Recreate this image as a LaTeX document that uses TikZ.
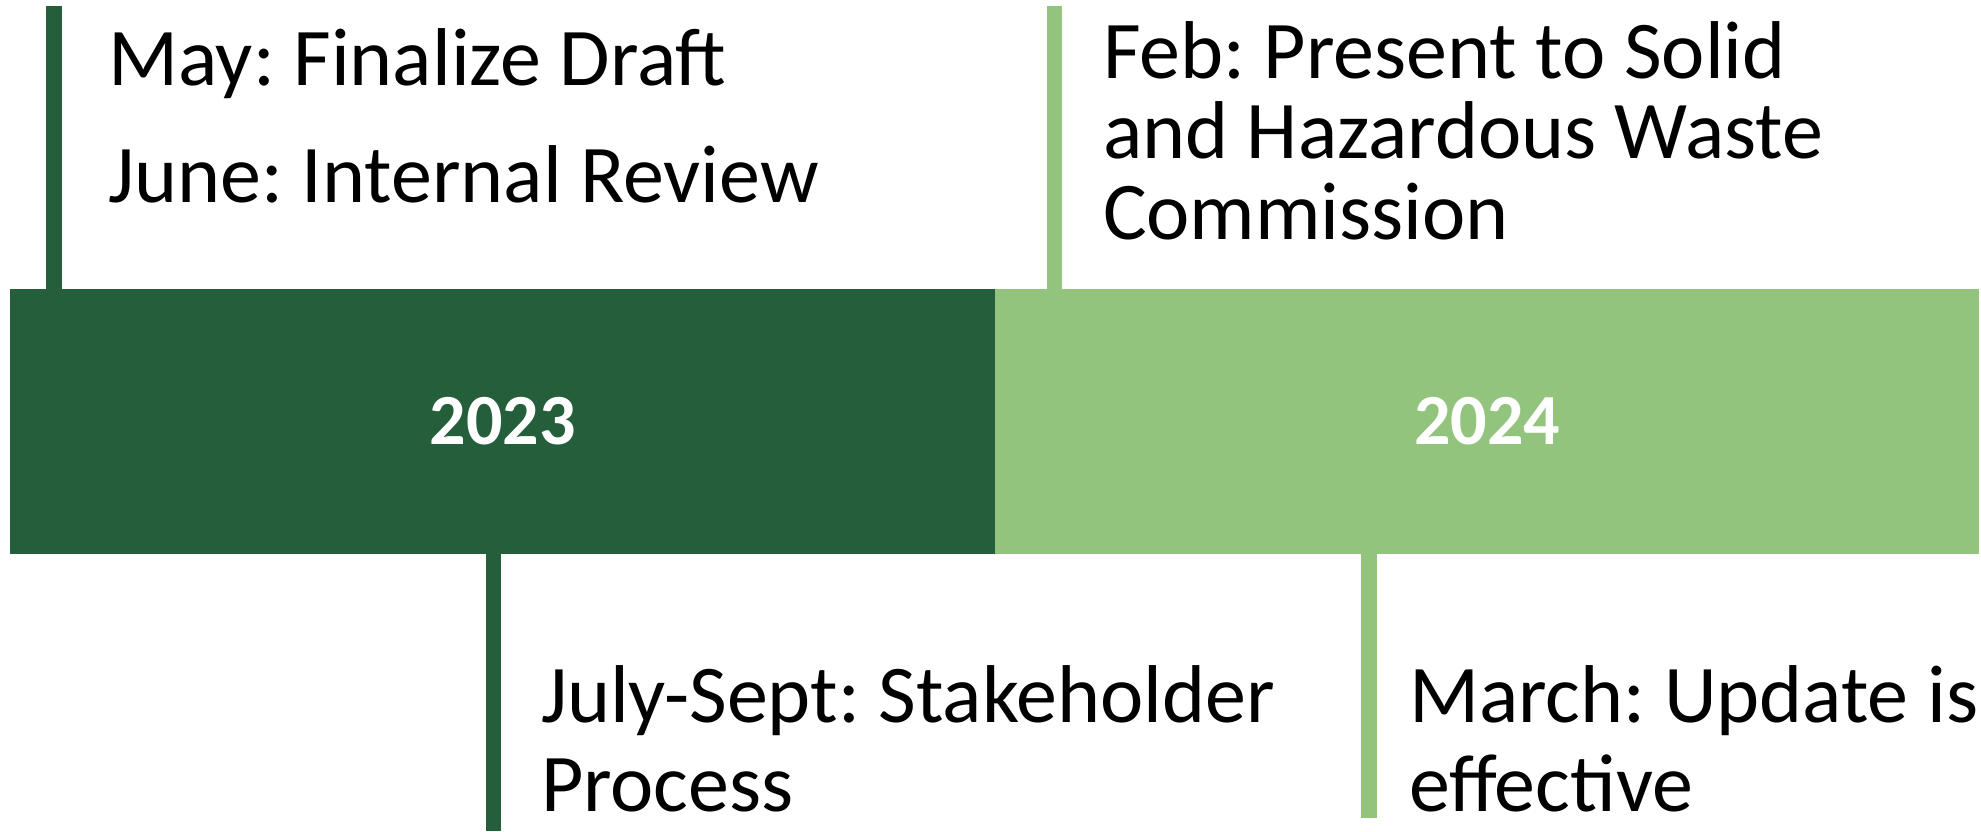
\documentclass[tikz,border=0pt]{standalone}
\usepackage{fontspec}
\setmainfont{Carlito}
\frenchspacing
\definecolor{darkg}{HTML}{255E3A}
\definecolor{lightg}{HTML}{93C47D}
\tikzset{
  yearbox/.style={draw=none, inner sep=0pt, outer sep=0pt, minimum height=265pt, text=white, font=\bfseries\fontsize{72}{80}\selectfont},
  tick/.style={line width=15.5pt},
  evtext/.style={anchor=base west, inner sep=0pt, outer sep=0pt, align=left, font=\fontsize{82}{80}\selectfont},
}
\begin{document}
\begin{tikzpicture}[x=1pt,y=-1pt]
\useasboundingbox (0,0) rectangle (1981,831);
% bar
\node[yearbox, fill=darkg, minimum width=985pt, anchor=north west] (y23) at (10,289) {2023};
\node[yearbox, fill=lightg, minimum width=984pt, anchor=north west] (y24) at (995,289) {2024};
% tick end coordinates
\coordinate (t1) at (54,5.5);
\coordinate (t2) at (1054.3,5.5);
\coordinate (b1) at (493.5,831);
\coordinate (b2) at (1369,817.7);
\draw[tick, darkg] (t1) -- (t1 |- y23.north);
\draw[tick, lightg] (t2) -- (t2 |- y24.north);
\draw[tick, darkg] (b1 |- y23.south) -- (b1);
\draw[tick, lightg] (b2 |- y24.south) -- (b2);
% texts
\node[evtext] (may) at (108,85) {May: Finalize Draft};
\node[evtext] (june) at (108,202) {June: Internal Review};
\node[evtext, font=\fontsize{82}{80.5}\selectfont] (feb) at (1103,239) {Feb: Present to Solid\\and Hazardous Waste\\Commission};
\node[evtext, font=\fontsize{82}{89}\selectfont] (july) at (541,811) {July-Sept: Stakeholder\\Process};
\node[evtext, font=\fontsize{82}{89}\selectfont] (march) at (1409,811) {March: Update is\\effective};
\end{tikzpicture}
\end{document}
